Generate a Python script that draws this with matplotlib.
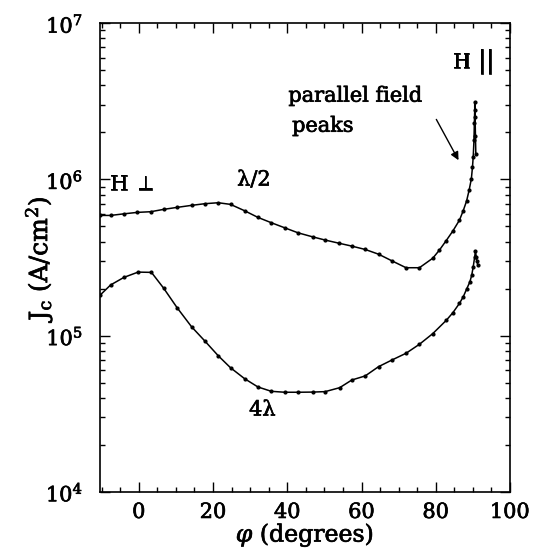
import numpy as np
import matplotlib
matplotlib.use("Agg")
import matplotlib.pyplot as plt
import matplotlib.patheffects as pe
from matplotlib.ticker import MultipleLocator, LogLocator, FixedLocator

# critical current vs field angle, two film thicknesses
phi_half = [-10.5, -7.6, -4.0, -0.4, 3.2, 6.7, 10.3, 14.2, 17.8, 21.4, 24.7,
            28.5, 32.1, 35.7, 39.3, 42.9, 46.8, 50.2, 53.8, 57.4, 61.0, 64.6,
            68.2, 72.0, 75.6, 79.2, 81.0, 82.8, 84.6, 86.4, 87.4, 88.3, 89.0,
            89.6, 89.9, 90.1, 90.3, 90.4, 90.5, 90.5, 90.6, 90.7, 90.8]
jc_half = [5.88e5, 5.88e5, 6.02e5, 6.15e5, 6.21e5, 6.43e5, 6.62e5, 6.82e5,
           6.99e5, 7.09e5, 6.92e5, 6.30e5, 5.71e5, 5.28e5, 4.90e5, 4.55e5,
           4.29e5, 4.09e5, 3.91e5, 3.74e5, 3.56e5, 3.32e5, 3.01e5, 2.72e5,
           2.72e5, 3.13e5, 3.53e5, 4.05e5, 4.67e5, 5.49e5, 6.30e5, 7.26e5,
           8.54e5, 1.01e6, 1.20e6, 1.40e6, 1.78e6, 2.28e6, 2.77e6, 3.14e6,
           2.5e6, 1.9e6, 1.45e6]

phi_4 = [-10.5, -7.6, -4.0, -0.2, 3.4, 6.7, 10.3, 14.2, 17.8, 21.4, 24.7,
         28.5, 32.1, 35.7, 39.3, 42.9, 46.8, 50.2, 54.1, 57.4, 61.0, 64.6,
         68.2, 72.0, 75.6, 79.2, 82.8, 84.6, 86.4, 87.4, 88.3, 89.2, 89.7,
         90.1, 90.5, 90.7, 90.9, 91.1, 91.3]
jc_4 = [1.81e5, 2.11e5, 2.36e5, 2.55e5, 2.54e5, 2.01e5, 1.51e5, 1.14e5,
        9.23e4, 7.43e4, 6.23e4, 5.30e4, 4.69e4, 4.40e4, 4.34e4, 4.34e4,
        4.35e4, 4.38e4, 4.64e4, 5.20e4, 5.52e4, 6.33e4, 6.98e4, 7.71e4,
        8.80e4, 1.03e5, 1.25e5, 1.40e5, 1.61e5, 1.77e5, 1.98e5, 2.21e5,
        2.44e5, 2.76e5, 3.20e5, 3.49e5, 3.2e5, 3.0e5, 2.85e5]

ytick_vals = [1e4, 1e5, 1e6, 1e7]
ytick_text = [r'$10^{4}$', r'$10^{5}$', r'$10^{6}$', r'$10^{7}$']

plt.rcParams['font.family'] = ['DejaVu Serif']
plt.rcParams['mathtext.fontset'] = 'dejavuserif'

FS = 15
bold = [pe.withStroke(linewidth=0.5, foreground='black')]

fig = plt.figure(figsize=(5.34, 5.52), dpi=100)
ax = fig.add_axes([0.187, 0.109, 0.768, 0.849])

ax.plot(phi_half, jc_half, color='black', lw=1.1, marker='o', ms=2.0)
ax.plot(phi_4, jc_4, color='black', lw=1.1, marker='o', ms=2.0)

ax.set_yscale('log')
ax.set_xlim(-10.5, 100)
ax.set_ylim(1e4, 1e7)

ax.xaxis.set_major_locator(FixedLocator([0, 20, 40, 60, 80, 100]))
ax.xaxis.set_minor_locator(MultipleLocator(5))
ax.yaxis.set_minor_locator(LogLocator(base=10, subs=np.arange(2, 10)))
ax.set_yticks(ytick_vals)
ax.set_yticklabels(ytick_text)

ax.tick_params(which='both', direction='in', top=True, right=True,
               labelsize=FS, width=1.0)
ax.tick_params(which='major', length=7)
ax.tick_params(axis='y', which='major', pad=12)
ax.tick_params(axis='x', which='major', pad=8)
ax.tick_params(which='minor', length=3.5)
for s in ax.spines.values():
    s.set_linewidth(1.2)

xl = ax.set_xlabel(r'$\varphi$ (degrees)', fontsize=17, labelpad=-1)
yl = ax.set_ylabel(r'J$_{\rm c}$ (A/cm$^{2}$)', fontsize=18, labelpad=-6)

labels = [xl, yl]
labels.append(ax.text(-7.9, 9.3e5, r'H $\perp$', fontsize=FS, va='center', ha='left'))
labels.append(ax.text(26.5, 9.9e5, 'λ/2', fontsize=FS, va='center', ha='left'))
labels.append(ax.text(40.3, 3.41e6, 'parallel field', fontsize=FS, va='center', ha='left'))
labels.append(ax.text(41.3, 2.19e6, 'peaks', fontsize=FS, va='center', ha='left'))
labels.append(ax.text(84.5, 5.6e6, 'H', fontsize=FS, va='center', ha='left'))
labels.append(ax.text(93.6, 5.6e6, '||', fontsize=FS + 3, va='center', ha='center'))
labels.append(ax.text(33.3, 3.34e4, '4λ', fontsize=FS, va='center', ha='center'))

ax.annotate('', xy=(86.5, 1.28e6), xytext=(79.8, 2.51e6),
            arrowprops=dict(arrowstyle='-|>', color='black', lw=1.0,
                            mutation_scale=12))

for t in labels + ax.get_xticklabels() + ax.get_yticklabels():
    t.set_path_effects(bold)

fig.savefig('out.png', dpi=100)
